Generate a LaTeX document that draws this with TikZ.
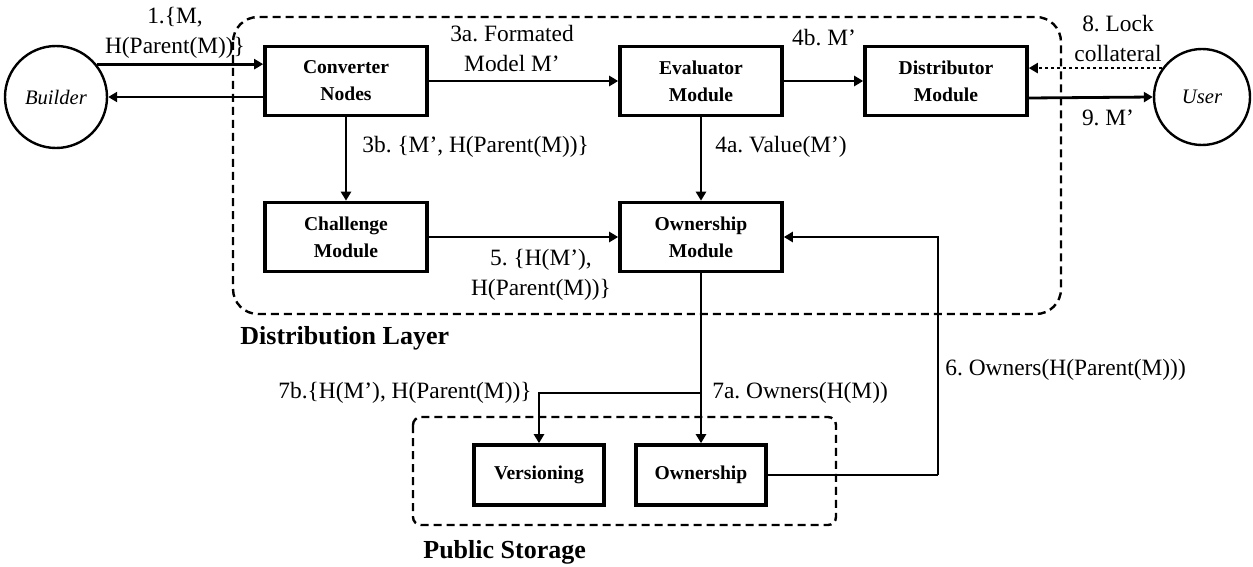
\documentclass[tikz,border=0pt]{standalone}
\usepackage{fontspec}
\setmainfont{Liberation Serif}
\usetikzlibrary{arrows.meta}
\frenchspacing

\tikzset{
  modbox/.style={draw, line width=1.8pt, minimum width=81pt, minimum height=34.5pt, align=center, font=\fontsize{9.8}{13.5}\selectfont\bfseries},
  storebox/.style={modbox, minimum width=65pt, minimum height=30pt},
  actor/.style={draw, circle, line width=1.2pt, inner sep=0pt, font=\fontsize{10.3}{12}\selectfont\itshape},
  arr/.style={line width=1.4pt, -{Triangle[length=4.5pt,width=5pt]}},
  lbl/.style={inner sep=0pt, align=center, font=\fontsize{11.7}{15}\selectfont},
  layerbox/.style={draw, line width=1.2pt, dash pattern=on 4pt off 2.5pt},
  layertitle/.style={inner sep=0pt, anchor=west, font=\fontsize{13}{15}\selectfont\bfseries}
}

\begin{document}
\begin{tikzpicture}[x=0.5pt, y=-0.5pt]
 \useasboundingbox (0,0) rectangle (1253,567);

 %%%%%%%%%% Layers %%%%%%%%%%
 \draw [layerbox, rounded corners=12.5pt] (233,17) rectangle (1061,314);
 \draw [layerbox, rounded corners=4pt] (413,417) rectangle (836,525);
 \node [layertitle] (distlayer) at (240,338) {Distribution Layer};
 \node [layertitle] (publayer) at (423,552) {Public Storage};

 %%%%%%%%%% Actors %%%%%%%%%%
 \node [actor, minimum size=51pt] (builder) at (56,97) {Builder};
 \node [actor, minimum size=48pt] (user) at (1202,97) {User};

 %%%%%%%%%% Modules %%%%%%%%%%
 \node [modbox] (conv) at (346,81) {Converter\\Nodes};
 \node [modbox] (eval) at (701,81) {Evaluator\\Module};
 \node [modbox] (distr) at (946,81) {Distributor\\Module};
 \node [modbox] (chall) at (346,237) {Challenge\\Module};
 \node [modbox] (ownmod) at (701,237) {Ownership\\Module};

 % Storage
 \node [storebox] (vers) at (539,475) {Versioning};
 \node [storebox] (ownst) at (701,475) {Ownership};

 %%%%%%%%%% Builder <-> Converter %%%%%%%%%%
 \draw [arr] (builder.39) -- (builder.39 -| conv.west);
 \draw [arr] ([yshift=-8pt]conv.west) -- (builder.east);
 \node [lbl] (l1) at (175,33) {1.\{M,\\H(Parent(M))\}};

 %%%%%%%%%% Top row %%%%%%%%%%
 \draw [arr] (conv) -- (eval);
 \node [lbl] (l3a) at (512,48) {3a. Formated\\Model M'};
 \draw [arr] (eval) -- (distr);
 \node [lbl] (l4b) at (824,38) {4b. M'};

 %%%%%%%%%% User %%%%%%%%%%
 \draw [arr, dash pattern=on 1.6pt off 1.4pt] (user.144) -- (user.144 -| distr.east);
 \node [lbl] (l8) at (1118,38) {8. Lock\\collateral};
 \draw [arr] ([yshift=-8.5pt]distr.east) -- (user.west);
 \node [lbl] (l9) at (1108,118) {9. M'};

 %%%%%%%%%% Down arrows %%%%%%%%%%
 \draw [arr] (conv) -- (chall);
 \node [lbl, anchor=west] (l3b) at (362,147) {3b. \{M', H(Parent(M))\}};
 \draw [arr] (eval) -- (ownmod);
 \node [lbl, anchor=west] (l4a) at (715,147) {4a. Value(M')};
 \draw [arr] (chall) -- (ownmod);
 \node [lbl] (l5) at (541,275) {5. \{H(M'),\\H(Parent(M))\}};

 %%%%%%%%%% Storage links %%%%%%%%%%
 \coordinate (br7) at (701,393);
 \draw [arr] (ownmod) -- (ownst);
 \draw [arr] (br7) -| (vers.north);
 \node [lbl, anchor=east] (l7b) at (532,393) {7b.\{H(M'), H(Parent(M))\}};
 \node [lbl, anchor=west] (l7a) at (712,393) {7a. Owners(H(M))};

 \coordinate (c6) at (938,475);
 \draw [line width=0.7pt] (ownst.east) -- (c6);
 \draw [arr] (c6) |- (ownmod.east);
 \node [lbl, anchor=west] (l6) at (945,370) {6. Owners(H(Parent(M)))};

\end{tikzpicture}
\end{document}
